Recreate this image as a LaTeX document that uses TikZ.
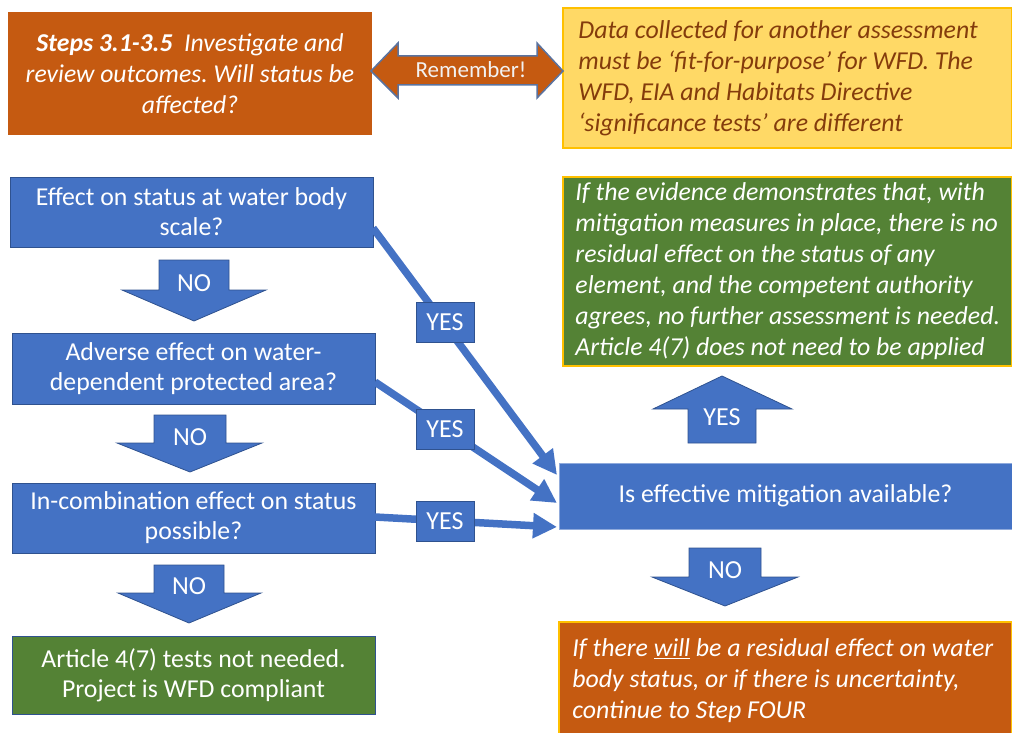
\documentclass[tikz,border=0pt]{standalone}
\usepackage{fontspec}
\setmainfont{Carlito}
\usetikzlibrary{arrows.meta}
\frenchspacing
\definecolor{bblue}{HTML}{4472C4}
\definecolor{bborder}{HTML}{2F528F}
\definecolor{orng}{HTML}{C55A11}
\definecolor{grn}{HTML}{548235}
\definecolor{gold}{HTML}{FFC000}
\definecolor{lgold}{HTML}{FFD966}
\definecolor{brwn}{HTML}{843C0C}
\definecolor{remedge}{HTML}{5A73A0}
\begin{document}
\begin{tikzpicture}[x=1pt,y=-1pt,
  bluebox/.style={draw=bborder, line width=1pt, fill=bblue, text=white, inner sep=0pt, align=center,
    font=\fontsize{25.8}{30}\selectfont\frenchspacing},
  greenbox/.style={bluebox, fill=grn},
  panel/.style={line width=1.5pt, draw=gold, inner sep=0pt},
  italtext/.style={inner sep=0pt, align=left, anchor=west, font=\fontsize{25.8}{31}\selectfont\itshape\frenchspacing},
  blockarrow/.style={fill=bblue, draw=bborder, line width=0.8pt},
  lbl/.style={text=white, font=\fontsize{26}{28}\selectfont, inner sep=0pt},
  yeslbl/.style={fill=bblue, draw=bborder, line width=0.6pt, text=white, font=\fontsize{26}{28}\selectfont,
    minimum width=58pt, minimum height=40pt, inner sep=0pt},
  conn/.style={draw=bblue, line width=7.5pt, -{Triangle[length=24pt,width=24pt]}}
]
\useasboundingbox (0,0) rectangle (1012,733);

% top row
\node[fill=orng, text=white, inner sep=0pt, minimum width=364pt, minimum height=123pt, align=center,
  font=\fontsize{25.7}{31}\selectfont\itshape\frenchspacing] (steps) at (190,73.5)
  {\textbf{Steps 3.1-3.5}\ \ Investigate and\\review outcomes. Will status be\\affected?};
\node[panel, fill=lgold, minimum width=449pt, minimum height=140pt] (data) at (787.5,78) {};
\node[italtext, text=brwn, xshift=16pt] (datat) at (data.west)
  {Data collected for another assessment\\must be ‘fit-for-purpose’ for WFD. The\\WFD, EIA and Habitats Directive\\‘significance tests’ are different};
\filldraw[fill=orng, draw=remedge, line width=1.5pt]
  (371,71) -- (398,43) -- (398,56) -- (537,56) -- (537,43) -- (563,71) -- (537,98) -- (537,85)
  -- (398,85) -- (398,98) -- cycle;
\node[text=white!95!black, font=\fontsize{23}{26}\selectfont, inner sep=0pt] (rem) at (471,70) {Remember!};

% left column
\node[bluebox, minimum width=363pt, minimum height=70pt] (b1) at (191.5,212)
  {Effect on status at water body\\scale?};
\node[bluebox, minimum width=363pt, minimum height=71pt] (b2) at (193.5,368.5)
  {Adverse effect on water-\\dependent protected area?};
\node[bluebox, minimum width=363pt, minimum height=70pt] (b3) at (193.5,518)
  {In-combination effect on status\\possible?};
\node[greenbox, minimum width=363pt, minimum height=78pt] (ok) at (193.5,675)
  {Article 4(7) tests not needed.\\Project is WFD compliant};

\path[blockarrow] (159,260) -- (229,260) -- (229,290) -- (266,290) -- (194,321) -- (122,290) -- (159,290) -- cycle;
\node[lbl] (no1) at (194,283) {NO};
\path[blockarrow] (154,415) -- (226,415) -- (226,443) -- (262,443) -- (190,472) -- (117,443) -- (154,443) -- cycle;
\node[lbl] (no2) at (190,437) {NO};
\path[blockarrow] (154,565) -- (224,565) -- (224,593) -- (261,593) -- (189,623) -- (118,593) -- (154,593) -- cycle;
\node[lbl] (no3) at (189,586) {NO};

% right column
\node[panel, fill=grn, minimum width=449pt, minimum height=189pt] (nores) at (787.5,271.5) {};
\node[italtext, text=white, xshift=13pt] (norest) at (nores.west)
  {If the evidence demonstrates that, with\\mitigation measures in place, there is no\\residual effect on the status of any\\element, and the competent authority\\agrees, no further assessment is needed.\\Article 4(7) does not need to be applied};
\node[bluebox, draw=bblue!60!white, minimum width=453pt, minimum height=66pt] (mit) at (785.5,496)
  {Is effective mitigation available?};
\node[panel, fill=orng, minimum width=453pt, minimum height=118pt] (four) at (785.5,681) {};
\node[italtext, text=white, xshift=14pt] (fourt) at (four.west)
  {If there \underline{will} be a residual effect on water\\body status, or if there is uncertainty,\\continue to Step FOUR};

\path[blockarrow] (688,443) -- (756,443) -- (756,409) -- (792,409) -- (722,376) -- (653,409) -- (688,409) -- cycle;
\node[lbl] (yes4) at (722,417) {YES};
\path[blockarrow] (689,548) -- (761,548) -- (761,577) -- (798,577) -- (725,606) -- (652,577) -- (689,577) -- cycle;
\node[lbl] (no4) at (725,570) {NO};

% YES connectors
\coordinate (s1) at (373,228);
\coordinate (s2) at (375,382);
\coordinate (s3) at (375,517);
\coordinate (e1) at (557,475);
\coordinate (e2) at (557,503);
\coordinate (e3) at (557,527);
\draw[conn] (s1) -- (e1);
\draw[conn] (s2) -- (e2);
\draw[conn] (s3) -- (e3);
\node[yeslbl] (y1) at (445,322.5) {YES};
\node[yeslbl] (y2) at (445,429) {YES};
\node[yeslbl] (y3) at (445,521) {YES};
\end{tikzpicture}
\end{document}
